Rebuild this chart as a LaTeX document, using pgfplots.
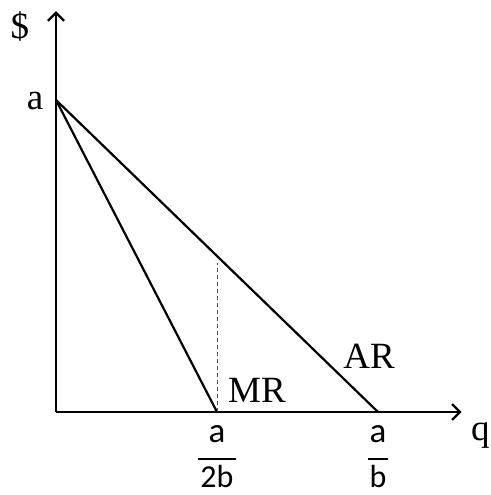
\documentclass[border=0pt]{standalone}
\usepackage{pgfplots}
\pgfplotsset{compat=1.18}
\usetikzlibrary{arrows.meta}
\usepackage{fontspec}
\setmainfont{Liberation Serif}
\newfontfamily\fracfont{Carlito}

% Linear demand with a = 10, b = 1: AR = a - b q, MR = a - 2 b q
\pgfplotstableread{
q p
0 10
10 0
}\ARdata
\pgfplotstableread{
q p
0 10
5 0
}\MRdata
\pgfplotstableread{
q p
5 0
5 4.78
}\guide

\begin{document}
\begin{tikzpicture}
\begin{axis}[
  x=32.2bp, y=31.2bp,
  xmin=-1.739, xmax=13.509,
  ymin=-2.660, ymax=13.205,
  hide axis, clip=false,
]
% frame that fixes the size of the picture
\path (axis cs:-1.739,-2.660) rectangle (axis cs:13.509,13.205);

% axes
\draw[line width=2.4bp, -{Straight Barb[length=8bp,width=16bp,line width=2.4bp]}]
  (axis cs:0,0) -- (axis cs:12.6,0);
\draw[line width=2.4bp, -{Straight Barb[length=8bp,width=16bp,line width=2.4bp]}]
  (axis cs:0,0) -- (axis cs:0,12.85);

% revenue curves
\addplot[black, line width=2.2bp] table[x=q,y=p] {\ARdata};
\addplot[black, line width=2.2bp] table[x=q,y=p] {\MRdata};
\addplot[black!70, line width=1bp, dash pattern=on 4bp off 3bp] table[x=q,y=p] {\guide};

% labels
\node[font=\fontsize{37bp}{40bp}\selectfont] at (axis cs:-1.118,12.37) {\$};
\node[font=\fontsize{37bp}{40bp}\selectfont, anchor=base] at (axis cs:-0.652,9.68) {a};
\node[font=\fontsize{37bp}{40bp}\selectfont, anchor=base] at (axis cs:6.24,0.32) {MR};
\node[font=\fontsize{37bp}{40bp}\selectfont, anchor=base] at (axis cs:9.72,1.41) {AR};
\node[font=\fontsize{37bp}{40bp}\selectfont, anchor=base east, inner sep=0pt] at (axis cs:13.47,-0.90) {q};

% fractions under the quantity axis
\node[font=\fracfont\fontsize{35bp}{38bp}\selectfont, anchor=base] at (axis cs:5,-0.962) {a};
\draw[line width=2.6bp] (axis cs:4.41,-1.51) -- (axis cs:5.59,-1.51);
\node[font=\fracfont\fontsize{32bp}{35bp}\selectfont, anchor=base, inner sep=0pt] at (axis cs:5,-2.42) {2b};
\node[font=\fracfont\fontsize{35bp}{38bp}\selectfont, anchor=base] at (axis cs:10,-0.962) {a};
\draw[line width=2.6bp] (axis cs:9.69,-1.51) -- (axis cs:10.31,-1.51);
\node[font=\fracfont\fontsize{32bp}{35bp}\selectfont, anchor=base, inner sep=0pt] at (axis cs:10,-2.42) {b};
\end{axis}
\end{tikzpicture}
\end{document}
